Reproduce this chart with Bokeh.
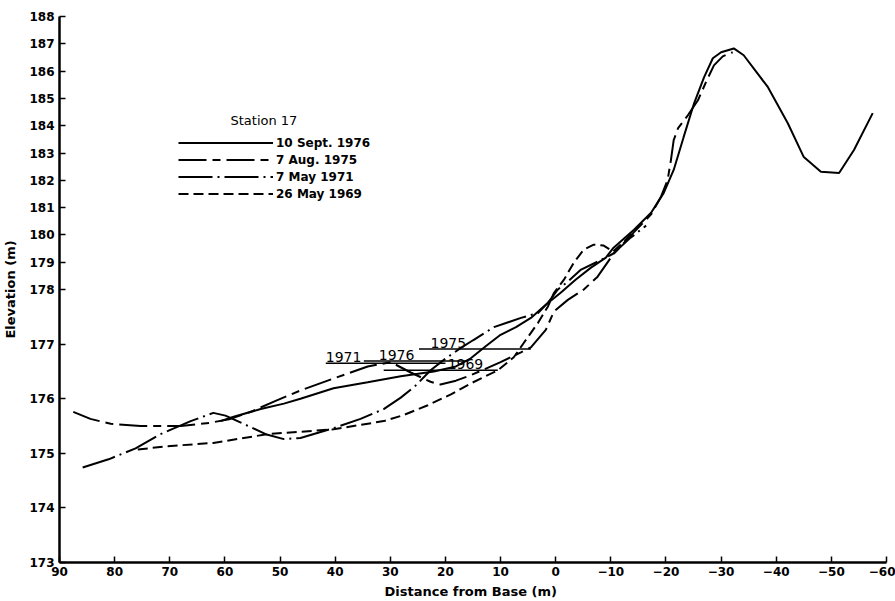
from bokeh.plotting import figure
from bokeh.models import (Range1d, FixedTicker, CustomJSTickFormatter, CustomJSTransform,
                          ColumnDataSource, Legend, LegendItem, Label)
from bokeh.transform import transform
from bokeh.core.properties import value
from bokeh.embed import file_html
from bokeh.resources import INLINE

# ---- data (distance from base in m, elevation in m) ----
s1976_x = [60.8, 58.4, 53.5, 49.3, 46.3, 40.3, 34.1, 28.1, 22.1, 18.1, 15.4, 12.7, 10.0, 7.2, 4.5, 1.8,
           -0.9, -3.6, -6.4, -9.1, -10.5, -14.2, -17.3, -19.6, -21.4, -23.2, -25.1, -26.9, -28.5, -30.0,
           -32.3, -34.1, -38.5, -42.1, -45.0, -48.1, -51.4, -54.1, -57.5]
s1976_y = [175.59, 175.67, 175.81, 175.91, 176.0, 176.19, 176.3, 176.41, 176.5, 176.59, 176.74, 176.96,
           177.17, 177.31, 177.48, 177.72, 177.94, 178.36, 178.8, 179.17, 179.53, 180.19, 180.81, 181.54,
           182.38, 183.58, 184.82, 185.77, 186.47, 186.69, 186.83, 186.58, 185.41, 184.09, 182.85,
           182.31, 182.27, 183.11, 184.46]

s1975_x = [87.5, 84.4, 80.7, 75.3, 68.0, 62.6, 59.0, 55.3, 50.8, 46.3, 40.3, 34.1, 29.9, 26.3, 22.7,
           20.9, 18.1, 15.4, 10.0, 6.3, 4.5, 1.8, 0.3, -2.2, -5.1, -7.6, -10.4, -14.2, -17.3, -19.1,
           -20.3, -20.9, -21.4, -22.2, -24.0, -25.8, -27.4, -28.7, -30.3, -32.1]
s1975_y = [175.76, 175.63, 175.54, 175.5, 175.5, 175.56, 175.63, 175.76, 175.96, 176.15, 176.37, 176.59,
           176.67, 176.48, 176.31, 176.26, 176.33, 176.43, 176.67, 176.85, 176.94, 177.26, 177.6,
           177.81, 178.0, 178.47, 179.28, 180.1, 180.75, 181.4, 182.01, 182.74, 183.47, 183.91,
           184.39, 184.93, 185.66, 186.21, 186.54, 186.69]

s1971_x = [85.8, 81.1, 76.2, 71.7, 66.2, 62.1, 59.9, 56.2, 52.6, 49.3, 46.3, 40.3, 35.4, 31.2, 28.1,
           25.4, 22.7, 19.9, 17.2, 15.0, 11.2, 6.3, 3.2, 1.4, -0.4, -2.2, -4.6, -7.6, -10.4, -13.6, -16.4]
s1971_y = [174.74, 174.89, 175.09, 175.35, 175.59, 175.74, 175.69, 175.52, 175.35, 175.26, 175.28,
           175.46, 175.63, 175.81, 176.02, 176.24, 176.52, 176.74, 176.93, 177.07, 177.31, 177.48,
           177.57, 177.76, 178.0, 178.29, 178.73, 179.02, 179.31, 179.9, 180.34]

s1969_x = [75.8, 70.4, 62.1, 52.3, 40.3, 31.2, 27.6, 23.2, 19.0, 15.4, 10.5, 7.6, 5.8, 3.2, 1.4, 0.3,
           -1.5, -3.3, -5.1, -6.9, -8.7, -10.4, -12.7, -14.7]
s1969_y = [175.07, 175.13, 175.19, 175.35, 175.44, 175.59, 175.7, 175.88, 176.08, 176.28, 176.52,
           176.76, 177.02, 177.39, 177.69, 177.94, 178.36, 178.99, 179.46, 179.64, 179.61, 179.39,
           179.82, 180.26]

# water levels marked on the profile
level_year = ["1971", "1976", "1975", "1969"]
level_elev = [176.65, 176.69, 176.91, 176.52]
level_x0 = [41.7, 34.8, 24.8, 31.2]
level_x1 = [20.0, 16.0, 4.5, 10.5]
level_label_x = [41.7, 32.1, 22.7, 19.6]

legend_labels = ["10 Sept. 1976", "7 Aug. 1975", "7 May 1971", "26 May 1969"]
x_ticks = [90, 80, 70, 60, 50, 40, 30, 20, 10, 0, -10, -20, -30, -40, -50, -60]
y_ticks = list(range(173, 189))

# ---- broken elevation scale: above 178 m the scale is halved ----
BREAK = 178
def squash(v):
    return v if v <= BREAK else BREAK + (v - BREAK) / 2

yt = CustomJSTransform(v_func="return xs.map(v => v <= 178 ? v : 178 + (v - 178) / 2);")

FONT = "DejaVu Sans"

p = figure(width=895, height=601, output_backend="svg", toolbar_location=None,
           x_range=Range1d(90, -60), y_range=Range1d(173, squash(188)),
           min_border_left=59, min_border_right=9, min_border_top=16, min_border_bottom=39)
p.outline_line_color = None
p.grid.visible = False
p.background_fill_color = "white"

styles = {
    "1976": dict(line_dash="solid"),
    "1975": dict(line_dash="28 6 8 6"),
    "1971": dict(line_dash="34 5 2 5"),
    "1969": dict(line_dash="10 5"),
}
series = [("1976", s1976_x, s1976_y), ("1975", s1975_x, s1975_y),
          ("1971", s1971_x, s1971_y), ("1969", s1969_x, s1969_y)]
renderers = []
for name, xs, ys in series:
    src = ColumnDataSource(dict(x=xs, elev=ys))
    r = p.line("x", transform("elev", yt), source=src, line_color="black", line_width=2,
               **styles[name])
    renderers.append(r)

lev = ColumnDataSource(dict(x0=level_x0, x1=level_x1, y=level_elev, lx=level_label_x, year=level_year))
p.segment("x0", "y", "x1", "y", source=lev, line_color="black", line_width=1.5)
p.text("lx", "y", text="year", source=lev, text_font=value(FONT), text_font_size="14px",
       text_baseline="bottom", text_align="left", y_offset=-1, text_color="black")

legend = Legend(items=[LegendItem(label=l, renderers=[r]) for l, r in zip(legend_labels, renderers)],
                location=(119, 360), orientation="vertical", glyph_width=95, glyph_height=17,
                label_height=17, label_standoff=3, spacing=0, padding=0, margin=0,
                border_line_color=None, background_fill_alpha=0,
                label_text_font=FONT, label_text_font_size="12px", label_text_font_style="bold",
                label_text_color="black")
p.add_layout(legend)
p.add_layout(Label(x=171, y=435, x_units="screen", y_units="screen", text="Station 17",
                   text_font=FONT, text_font_size="13px", text_color="black"))

# axes
p.xaxis.ticker = FixedTicker(ticks=x_ticks)
p.yaxis.ticker = FixedTicker(ticks=[squash(v) for v in y_ticks])
p.yaxis.formatter = CustomJSTickFormatter(
    code="const v = tick <= 178 ? tick : 178 + (tick - 178) * 2; return Math.round(v).toString();")
for ax in (p.xaxis[0], p.yaxis[0]):
    ax.axis_line_width = 2.5
    ax.axis_line_color = "black"
    ax.major_tick_in = 6
    ax.major_tick_out = 0
    ax.major_tick_line_width = 1.5
    ax.minor_tick_line_color = None
    ax.major_label_text_font = FONT
    ax.major_label_text_font_size = "12px"
    ax.major_label_text_font_style = "bold"
    ax.major_label_text_color = "black"
    ax.axis_label_text_font = FONT
    ax.axis_label_text_font_size = "13px"
    ax.axis_label_text_font_style = "bold"
    ax.axis_label_text_color = "black"
p.xaxis.axis_label = "Distance  from Base (m)"
p.yaxis.axis_label = "Elevation (m)"
p.xaxis.major_label_standoff = 4
p.xaxis.axis_label_standoff = 5
p.yaxis.major_label_standoff = 5
p.yaxis.axis_label_standoff = 8

open("out.html", "w").write(file_html(p, INLINE))
